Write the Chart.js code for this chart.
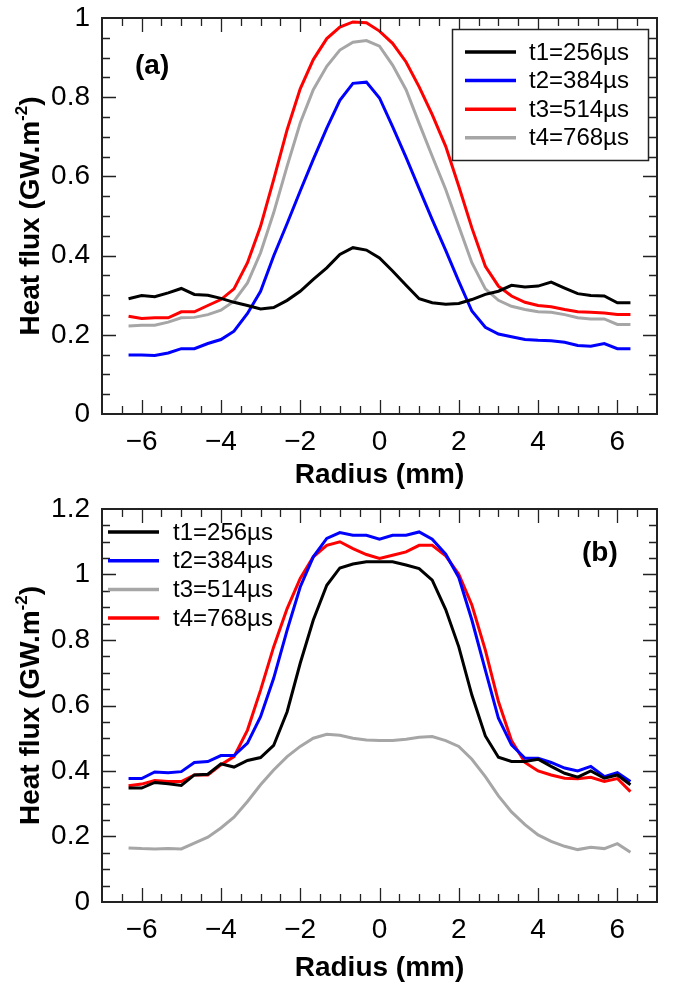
<!DOCTYPE html>
<html>
<head>
<meta charset="utf-8">
<title>Heat flux profiles</title>
<script src="https://cdn.jsdelivr.net/npm/chart.js@4.4.1/dist/chart.umd.min.js"></script>
<style>
  html, body { margin: 0; padding: 0; background: #fff; }
  .panel { width: 673px; height: 494px; }
  canvas { display: block; }
</style>
</head>
<body>
<div class="panel"><canvas id="chartA" width="673" height="494"></canvas></div>
<div class="panel"><canvas id="chartB" width="673" height="494"></canvas></div>
<script>
// ---------------------------------------------------------------------------
// Data
// ---------------------------------------------------------------------------
const radius = [-6.33, -6, -5.67, -5.33, -5, -4.67, -4.33, -4, -3.67, -3.33,
                -3, -2.67, -2.33, -2, -1.67, -1.33, -1, -0.67, -0.33, 0,
                0.33, 0.67, 1, 1.33, 1.67, 2, 2.33, 2.67, 3, 3.33,
                3.67, 4, 4.33, 4.67, 5, 5.33, 5.67, 6, 6.33];

const labelsA = ['t1=256\u00b5s', 't2=384\u00b5s', 't3=514\u00b5s', 't4=768\u00b5s'];
const labelsB = ['t1=256\u00b5s', 't2=384\u00b5s', 't3=514\u00b5s', 't4=768\u00b5s'];

// panel (a)
const fluxA_t1 = [0.291, 0.299, 0.296, 0.306, 0.317, 0.302, 0.300, 0.292, 0.282, 0.274,
                  0.265, 0.269, 0.287, 0.310, 0.340, 0.369, 0.403, 0.420, 0.414, 0.394,
                  0.361, 0.325, 0.291, 0.281, 0.277, 0.279, 0.289, 0.302, 0.310, 0.325,
                  0.321, 0.323, 0.333, 0.318, 0.304, 0.299, 0.298, 0.281, 0.281];
const fluxA_t2 = [0.149, 0.149, 0.148, 0.154, 0.165, 0.165, 0.178, 0.188, 0.209, 0.254,
                  0.310, 0.399, 0.481, 0.563, 0.643, 0.722, 0.792, 0.835, 0.838, 0.798,
                  0.726, 0.648, 0.569, 0.491, 0.413, 0.335, 0.260, 0.219, 0.202, 0.195,
                  0.188, 0.186, 0.185, 0.181, 0.173, 0.171, 0.178, 0.165, 0.165];
const fluxA_t3 = [0.247, 0.241, 0.243, 0.243, 0.258, 0.258, 0.274, 0.289, 0.316, 0.382,
                  0.474, 0.592, 0.718, 0.821, 0.895, 0.948, 0.977, 0.990, 0.988, 0.967,
                  0.936, 0.889, 0.826, 0.756, 0.676, 0.575, 0.470, 0.373, 0.323, 0.298,
                  0.282, 0.274, 0.271, 0.264, 0.258, 0.257, 0.255, 0.251, 0.251];
const fluxA_t4 = [0.222, 0.224, 0.224, 0.232, 0.243, 0.244, 0.251, 0.262, 0.285, 0.331,
                  0.407, 0.508, 0.626, 0.735, 0.819, 0.878, 0.919, 0.939, 0.943, 0.929,
                  0.881, 0.819, 0.734, 0.651, 0.567, 0.474, 0.382, 0.316, 0.287, 0.272,
                  0.264, 0.258, 0.257, 0.251, 0.243, 0.240, 0.240, 0.226, 0.226];

// panel (b)
const fluxB_t1 = [0.348, 0.348, 0.365, 0.361, 0.356, 0.388, 0.390, 0.422, 0.412, 0.432,
                  0.441, 0.478, 0.581, 0.729, 0.861, 0.967, 1.020, 1.032, 1.039, 1.039,
                  1.039, 1.029, 1.018, 0.983, 0.893, 0.779, 0.632, 0.507, 0.442, 0.429,
                  0.429, 0.436, 0.414, 0.393, 0.381, 0.400, 0.378, 0.388, 0.358];
const fluxB_t2 = [0.377, 0.377, 0.397, 0.395, 0.398, 0.426, 0.429, 0.447, 0.447, 0.485,
                  0.566, 0.683, 0.830, 0.962, 1.054, 1.110, 1.128, 1.120, 1.120, 1.108,
                  1.120, 1.120, 1.130, 1.108, 1.062, 0.991, 0.861, 0.708, 0.561, 0.480,
                  0.439, 0.439, 0.426, 0.409, 0.400, 0.414, 0.383, 0.395, 0.368];
const fluxB_t3 = [0.165, 0.163, 0.162, 0.163, 0.162, 0.180, 0.198, 0.226, 0.259, 0.307,
                  0.358, 0.403, 0.444, 0.475, 0.500, 0.512, 0.509, 0.500, 0.495, 0.493,
                  0.493, 0.497, 0.503, 0.505, 0.493, 0.475, 0.436, 0.383, 0.324, 0.275,
                  0.236, 0.205, 0.185, 0.170, 0.160, 0.167, 0.163, 0.178, 0.152];
const fluxB_t4 = [0.355, 0.360, 0.371, 0.368, 0.368, 0.388, 0.388, 0.419, 0.444, 0.525,
                  0.647, 0.779, 0.896, 0.988, 1.054, 1.089, 1.100, 1.079, 1.061, 1.049,
                  1.059, 1.069, 1.089, 1.089, 1.057, 1.001, 0.907, 0.769, 0.612, 0.493,
                  0.426, 0.400, 0.388, 0.378, 0.376, 0.381, 0.368, 0.377, 0.337];

const xTickLabels = [-6, -4, -2, 0, 2, 4, 6];

// ---------------------------------------------------------------------------
// Styling helpers
// ---------------------------------------------------------------------------
const FONT = "'Liberation Sans', Arial, Helvetica, sans-serif";
const BLACK = '#000000';
const BLUE = '#0000ff';
const RED = '#ff0000';
const GRAY = '#a6a6a6';

Chart.defaults.font.family = FONT;
Chart.defaults.color = '#000';

function series(label, ys, color) {
    return {
        label: label,
        data: radius.map((x, i) => ({ x: x, y: ys[i] })),
        borderColor: color,
        backgroundColor: color,
        borderWidth: 3,
        pointRadius: 0,
        tension: 0,
        fill: false
    };
}

// inward ticks on all four sides + frame (Origin-like box)
const frameTicks = {
    id: 'frameTicks',
    afterDatasetsDraw(chart, args, opts) {
        const { ctx, chartArea: a, scales: { x, y } } = chart;
        ctx.save();
        ctx.strokeStyle = '#222';
        ctx.lineWidth = 1.3;
        ctx.beginPath();
        for (let v = x.min + opts.xMinor; v < x.max - 1e-9; v += opts.xMinor) {
            const px = Math.round(x.getPixelForValue(v)) + 0.5;
            const major = Math.abs(v / opts.xMajor - Math.round(v / opts.xMajor)) < 1e-6;
            const len = major ? 14 : 8;
            ctx.moveTo(px, a.bottom); ctx.lineTo(px, a.bottom - len);
            ctx.moveTo(px, a.top); ctx.lineTo(px, a.top + len);
        }
        for (let v = y.min + opts.yMinor; v < y.max - 1e-9; v += opts.yMinor) {
            const py = Math.round(y.getPixelForValue(v)) + 0.5;
            const major = Math.abs(v / opts.yMajor - Math.round(v / opts.yMajor)) < 1e-6;
            const len = major ? 14 : 8;
            ctx.moveTo(a.left, py); ctx.lineTo(a.left + len, py);
            ctx.moveTo(a.right, py); ctx.lineTo(a.right - len, py);
        }
        ctx.stroke();
        ctx.lineWidth = 2;
        ctx.strokeRect(a.left, a.top, a.right - a.left, a.bottom - a.top);
        ctx.restore();
    }
};

// rotated y title with a real superscript, panel tag and inset legend
const decorations = {
    id: 'decorations',
    afterDraw(chart, args, opts) {
        const { ctx, chartArea: a } = chart;
        ctx.save();

        // y axis title
        const big = 'bold 28px ' + FONT;
        const small = 'bold 17px ' + FONT;
        ctx.font = big;
        const w1 = ctx.measureText('Heat flux (GW.m').width;
        const w3 = ctx.measureText(')').width;
        ctx.font = small;
        const w2 = ctx.measureText('-2').width;
        ctx.translate(opts.yTitleX, (a.top + a.bottom) / 2);
        ctx.rotate(-Math.PI / 2);
        ctx.fillStyle = '#000';
        ctx.textBaseline = 'middle';
        ctx.textAlign = 'left';
        const x0 = -(w1 + w2 + w3) / 2;
        ctx.font = big;
        ctx.fillText('Heat flux (GW.m', x0, 0);
        ctx.font = small;
        ctx.fillText('-2', x0 + w1, -9);
        ctx.font = big;
        ctx.fillText(')', x0 + w1 + w2, 0);
        ctx.setTransform(1, 0, 0, 1, 0, 0);

        // panel tag
        ctx.font = big;
        ctx.fillText(opts.tag, opts.tagX, opts.tagY);

        // legend
        const lg = opts.legend;
        if (lg.box) {
            ctx.fillStyle = '#fff';
            ctx.fillRect(lg.box[0], lg.box[1], lg.box[2], lg.box[3]);
            ctx.lineWidth = 1.5;
            ctx.strokeStyle = '#222';
            ctx.strokeRect(lg.box[0] + 0.5, lg.box[1] + 0.5, lg.box[2], lg.box[3]);
        }
        ctx.font = '24px ' + FONT;
        chart.data.datasets.forEach((ds, i) => {
            const yy = lg.y0 + i * lg.dy;
            ctx.strokeStyle = ds.borderColor;
            ctx.lineWidth = 3.5;
            ctx.beginPath();
            ctx.moveTo(lg.lineX[0], yy);
            ctx.lineTo(lg.lineX[1], yy);
            ctx.stroke();
            ctx.fillStyle = '#000';
            ctx.fillText(ds.label, lg.textX, yy + 1);
        });
        ctx.restore();
    }
};

function fmtY(v) {
    return String(parseFloat(v.toFixed(1)));
}

function buildPanel(canvasId, datasets, o) {
    return new Chart(document.getElementById(canvasId), {
        type: 'line',
        data: { datasets: datasets },
        options: {
            responsive: false,
            animation: false,
            layout: { padding: { left: 0, right: 16, top: o.top, bottom: 0 } },
            plugins: {
                legend: { display: false },
                tooltip: { enabled: false },
                frameTicks: { xMinor: 0.5, xMajor: 2, yMinor: 0.05, yMajor: 0.2 },
                decorations: o.deco
            },
            scales: {
                x: {
                    type: 'linear',
                    min: -7,
                    max: 7,
                    afterFit(scale) {
                        scale.height = o.xHeight;
                        scale.paddingLeft = 0;
                        scale.paddingRight = 0;
                    },
                    afterBuildTicks(scale) {
                        scale.ticks = xTickLabels.map(v => ({ value: v }));
                    },
                    ticks: {
                        padding: 14,
                        maxRotation: 0,
                        autoSkip: false,
                        font: { size: 28, lineHeight: 1 },
                        callback(v) { return v < 0 ? '\u2212' + Math.abs(v) : String(v); }
                    },
                    grid: { display: false, drawTicks: false },
                    border: { display: false },
                    title: {
                        display: true,
                        text: 'Radius (mm)',
                        font: { size: 28, weight: 'bold' },
                        padding: { top: 0, bottom: o.xTitlePad }
                    }
                },
                y: {
                    type: 'linear',
                    min: 0,
                    max: o.yMax,
                    afterFit(scale) {
                        scale.width = 102;
                        scale.paddingTop = 0;
                        scale.paddingBottom = 0;
                    },
                    ticks: {
                        stepSize: 0.2,
                        padding: 12,
                        font: { size: 28, lineHeight: 1 },
                        callback(v) { return fmtY(v); }
                    },
                    grid: { display: false, drawTicks: false },
                    border: { display: false }
                }
            }
        },
        plugins: [frameTicks, decorations]
    });
}

// ---------------------------------------------------------------------------
// Panel (a)
// ---------------------------------------------------------------------------
buildPanel('chartA', [
    series(labelsA[0], fluxA_t1, BLACK),
    series(labelsA[1], fluxA_t2, BLUE),
    series(labelsA[2], fluxA_t3, RED),
    series(labelsA[3], fluxA_t4, GRAY)
], {
    top: 18,
    yMax: 1,
    xHeight: 80,
    xTitlePad: 2,
    deco: {
        yTitleX: 31,
        tag: '(a)', tagX: 135, tagY: 66,
        legend: { box: [452, 29, 196, 131], lineX: [465, 516], textX: 529, y0: 52, dy: 28.6 }
    }
});

// ---------------------------------------------------------------------------
// Panel (b)
// ---------------------------------------------------------------------------
buildPanel('chartB', [
    series(labelsB[0], fluxB_t1, BLACK),
    series(labelsB[1], fluxB_t2, BLUE),
    series(labelsB[2], fluxB_t3, GRAY),
    series(labelsB[3], fluxB_t4, RED)
], {
    top: 15,
    yMax: 1.2,
    xHeight: 86,
    xTitlePad: 3,
    deco: {
        yTitleX: 31,
        tag: '(b)', tagX: 582, tagY: 59,
        legend: { box: null, lineX: [108, 159], textX: 173, y0: 38, dy: 28.7 }
    }
});
</script>
</body>
</html>
